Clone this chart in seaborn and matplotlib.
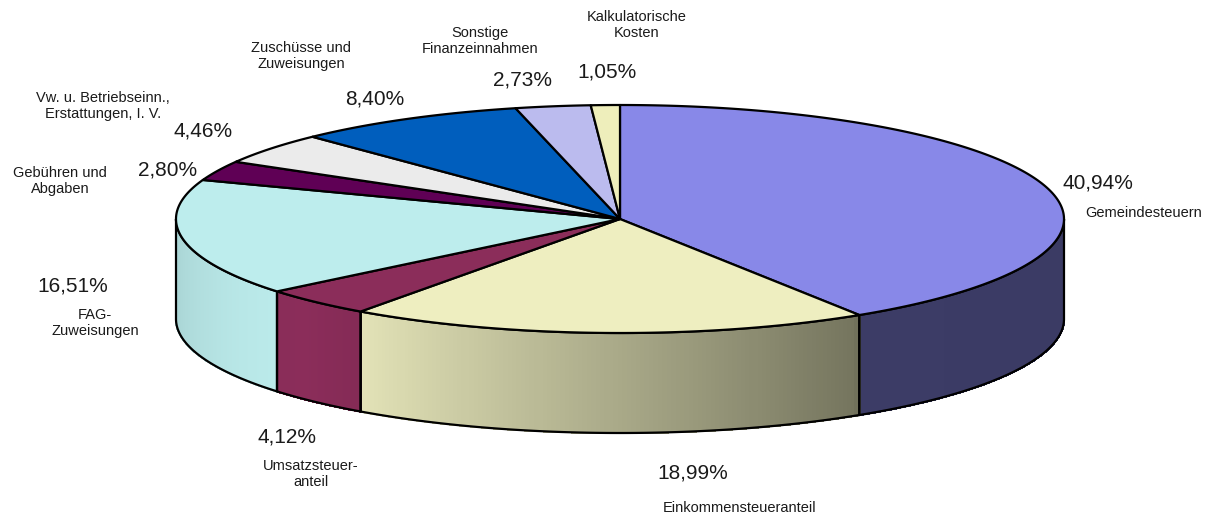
"""3D-style pie chart of municipal revenue shares."""

import matplotlib

matplotlib.use("Agg")
import matplotlib.pyplot as plt
import numpy as np
import seaborn as sns
from matplotlib.colors import to_rgb
from matplotlib.patches import Polygon

CATEGORIES = [
    "Gemeindesteuern",
    "Einkommensteueranteil",
    "Umsatzsteuer-\nanteil",
    "FAG-\nZuweisungen",
    "Gebühren und\nAbgaben",
    "Vw. u. Betriebseinn.,\nErstattungen, I. V.",
    "Zuschüsse und\nZuweisungen",
    "Sonstige\nFinanzeinnahmen",
    "Kalkulatorische\nKosten",
]
SHARES = [40.94, 18.99, 4.12, 16.51, 2.80, 4.46, 8.40, 2.73, 1.05]
COLORS = [
    "#8888e8",
    "#eeeec0",
    "#8b2d5a",
    "#bdeded",
    "#5f0055",
    "#ebebeb",
    "#005ebd",
    "#bbbbee",
    "#eeeebb",
]

# label anchors in pixel space: (percent x, y, category x, y)
LABEL_POS = [
    (1098, 183, 1144, 213),
    (693, 473, 740, 508),
    (287, 437, 311, 474),
    (73, 286, 95, 323),
    (168, 170, 60, 181),
    (203, 131, 103, 106),
    (375, 99, 301, 56),
    (522, 80, 480, 41),
    (607, 72, 637, 25),
]

W, H = 1212, 517
CX, CY, RX, RY, DEPTH = 620, 219, 444, 114, 100


def side_shade(theta):
    return np.interp(theta, [-180, -150, -135, -125, -58, -57, 0],
                     [0.88, 0.97, 1.0, 0.95, 0.49, 0.44, 0.43])


def arc(t1, t2, n=200):
    t = np.linspace(t1, t2, n)
    rad = np.radians(t)
    return t, CX + RX * np.cos(rad), CY - RY * np.sin(rad)


sns.set_theme(style="white")
plt.rcParams["font.family"] = ["Liberation Sans", "DejaVu Sans"]

fig = plt.figure(figsize=(W / 100, H / 100), dpi=100)
ax = fig.add_axes([0, 0, 1, 1])
ax.set_xlim(0, W)
ax.set_ylim(H, 0)
ax.axis("off")

shares = np.array(SHARES)
ends = 90 - np.cumsum(shares) / shares.sum() * 360
starts = np.concatenate([[90], ends[:-1]])

# side walls (front half only, angles between -180 and 0)
for s, e, col in zip(starts, ends, COLORS):
    lo, hi = max(e, -180), min(s, 0)
    if s < -180:
        lo, hi = max(e + 360, -180), min(s + 360, 0)
    if lo >= hi:
        continue
    t, x, y = arc(lo, hi, 120)
    base = np.array(to_rgb(col))
    for i in range(len(t) - 1):
        c = np.clip(base * side_shade((t[i] + t[i + 1]) / 2), 0, 1)
        quad = [(x[i], y[i]), (x[i + 1], y[i + 1]),
                (x[i + 1], y[i + 1] + DEPTH), (x[i], y[i] + DEPTH)]
        ax.add_patch(Polygon(quad, closed=True, facecolor=c, edgecolor=c,
                             linewidth=1.0, antialiased=False, zorder=1))
    outline = np.vstack([np.column_stack([x, y]),
                         np.column_stack([x[::-1], y[::-1] + DEPTH])])
    ax.add_patch(Polygon(outline, closed=True, fill=False, edgecolor="black",
                         linewidth=1.6, zorder=2))

# top faces
for s, e, col in zip(starts, ends, COLORS):
    _, x, y = arc(s, e, 200)
    pts = np.vstack([[CX, CY], np.column_stack([x, y])])
    ax.add_patch(Polygon(pts, closed=True, facecolor=col, edgecolor="black",
                         linewidth=1.6, joinstyle="round", zorder=3))

# labels
for cat, val, (px, py, lx, ly) in zip(CATEGORIES, SHARES, LABEL_POS):
    ax.text(px, py, f"{val:.2f}%".replace(".", ","), ha="center", va="center",
            fontsize=15, color="#1a1a1a", zorder=5)
    ax.text(lx, ly, cat, ha="center", va="center", multialignment="center",
            fontsize=10.5, color="#1a1a1a", linespacing=1.15, zorder=5)

fig.savefig("out.png", dpi=100)
plt.close(fig)
